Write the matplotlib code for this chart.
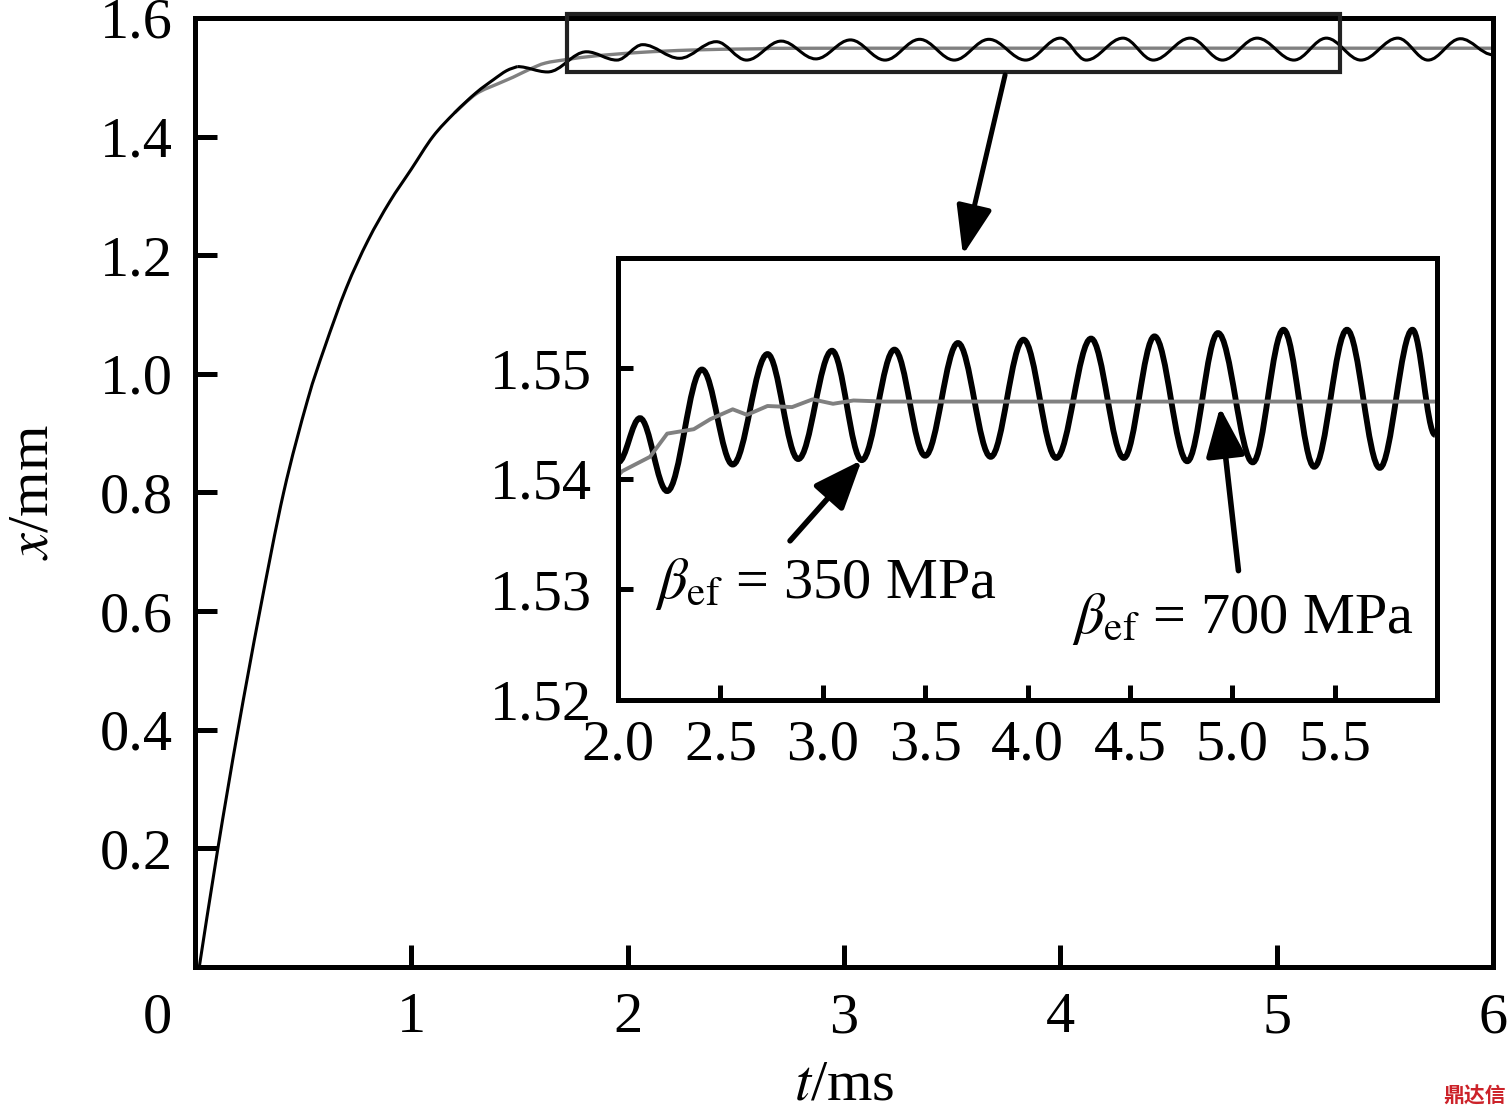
import matplotlib
matplotlib.use('Agg')
import matplotlib.pyplot as plt
from matplotlib.path import Path
from matplotlib.patches import PathPatch, Rectangle

plt.rcParams['font.family'] = ['Liberation Serif', 'DejaVu Serif']
plt.rcParams['mathtext.fontset'] = 'stix'

# main plot: common rise (t in ms, x in mm)
rise_t = [0.02, 0.106, 0.199, 0.30, 0.41, 0.52, 0.60, 0.70, 0.80, 0.90, 1.0,
          1.10, 1.20, 1.30, 1.38, 1.44, 1.49]
rise_x = [0.0, 0.2, 0.4, 0.6, 0.80, 0.955, 1.045, 1.145, 1.225, 1.29, 1.345,
          1.40, 1.44, 1.474, 1.496, 1.511, 1.518]

# main plot, beta_ef = 700 MPa: peaks / troughs after the rise
main_ext_t = [1.49, 1.63, 1.81, 1.95, 2.07, 2.24, 2.41, 2.55, 2.71, 2.87, 3.03, 3.19,
              3.35, 3.51, 3.67, 3.84, 4.00, 4.12, 4.29, 4.43, 4.60, 4.75, 4.91, 5.08,
              5.23, 5.39, 5.56, 5.70, 5.85, 6.0]
main_ext_x = [1.518, 1.509, 1.543, 1.529, 1.555, 1.532, 1.560, 1.529, 1.561, 1.531,
              1.563, 1.529, 1.564, 1.529, 1.564, 1.529, 1.566, 1.529, 1.566, 1.529,
              1.566, 1.529, 1.566, 1.529, 1.566, 1.529, 1.566, 1.529, 1.565, 1.538]

# main plot, beta_ef = 350 MPa tail
gray_t = [1.20, 1.30, 1.40, 1.47, 1.55, 1.62, 1.72, 1.85, 2.06, 2.3, 2.6, 3.0, 6.0]
gray_x = [1.44, 1.472, 1.489, 1.500, 1.514, 1.524, 1.530, 1.536, 1.542, 1.546, 1.548,
          1.549, 1.549]

# inset, beta_ef = 700 MPa extrema
ins_ext_t = [2.0, 2.107, 2.24, 2.41, 2.56, 2.73, 2.88, 3.045, 3.19, 3.35, 3.50, 3.66,
             3.82, 3.98, 4.14, 4.31, 4.47, 4.62, 4.78, 4.93, 5.10, 5.25, 5.40, 5.56,
             5.72, 5.88, 5.99]
ins_ext_x = [1.5415, 1.5455, 1.5389, 1.5499, 1.5413, 1.5513, 1.5418, 1.5516, 1.5417,
             1.5517, 1.5421, 1.5523, 1.5420, 1.5526, 1.5419, 1.5527, 1.5419, 1.5529,
             1.5416, 1.5532, 1.5415, 1.5535, 1.5411, 1.5535, 1.5410, 1.5535, 1.5440]

# inset, beta_ef = 350 MPa
ins_gray_t = [2.0, 2.02, 2.156, 2.24, 2.37, 2.45, 2.56, 2.63, 2.73, 2.85, 2.95, 3.05,
              3.15, 3.3, 6.0]
ins_gray_x = [1.5403, 1.5407, 1.5420, 1.5441, 1.5445, 1.5454, 1.5463, 1.5458, 1.5466,
              1.5465, 1.5472, 1.5468, 1.5471, 1.5470, 1.5470]

main_xticks = [1, 2, 3, 4, 5, 6]
main_yticks = [0.2, 0.4, 0.6, 0.8, 1.0, 1.2, 1.4, 1.6]
ins_xticks = [2.0, 2.5, 3.0, 3.5, 4.0, 4.5, 5.0, 5.5]
ins_yticks = [1.52, 1.53, 1.54, 1.55]


def wave(t_ext, x_ext, a=0.36):
    # smooth curve through extrema, flat tangent at each one
    verts = [(t_ext[0], x_ext[0])]
    codes = [Path.MOVETO]
    for i in range(len(t_ext) - 1):
        dt = t_ext[i + 1] - t_ext[i]
        verts += [(t_ext[i] + a * dt, x_ext[i]),
                  (t_ext[i + 1] - a * dt, x_ext[i + 1]),
                  (t_ext[i + 1], x_ext[i + 1])]
        codes += [Path.CURVE4] * 3
    return Path(verts, codes)


def smooth(t, x):
    # Catmull-Rom through the read points, as bezier segments
    pts = list(zip(t, x))
    verts = [pts[0]]
    codes = [Path.MOVETO]
    n = len(pts)
    for i in range(n - 1):
        p0 = pts[max(i - 1, 0)]
        p1 = pts[i]
        p2 = pts[i + 1]
        p3 = pts[min(i + 2, n - 1)]
        c1 = (p1[0] + (p2[0] - p0[0]) / 6, p1[1] + (p2[1] - p0[1]) / 6)
        c2 = (p2[0] - (p3[0] - p1[0]) / 6, p2[1] - (p3[1] - p1[1]) / 6)
        verts += [c1, c2, p2]
        codes += [Path.CURVE4] * 3
    return Path(verts, codes)


fig = plt.figure(figsize=(15.1, 11.16), dpi=100)

ax = fig.add_axes([0.1291, 0.1335, 0.8596, 0.8504])
ax.add_patch(PathPatch(smooth(gray_t, gray_x), fill=False, ec='#808080', lw=2.4))
ax.add_patch(PathPatch(smooth(rise_t, rise_x), fill=False, ec='black', lw=2.2))
ax.add_patch(PathPatch(wave(main_ext_t, main_ext_x), fill=False, ec='black', lw=2.2))
ax.set_xlim(0, 6)
ax.set_ylim(0, 1.6)
ax.set_xticks(main_xticks)
ax.set_xticklabels([str(v) for v in main_xticks])
ax.set_yticks(main_yticks)
ax.set_yticklabels(['%.1f' % v for v in main_yticks])
ax.tick_params(direction='in', length=16, width=3.6, labelsize=42)
ax.tick_params(axis='x', pad=18)
ax.tick_params(axis='y', pad=16)
for s in ax.spines.values():
    s.set_linewidth(3.6)
ax.annotate('0', xy=(0, 0), xytext=(-27, -18), textcoords='offset points',
            ha='center', va='top', fontsize=42, annotation_clip=False)
ax.set_xlabel(r'$t$/ms', fontsize=42)
ax.xaxis.set_label_coords(0.5, -0.097)
ax.set_ylabel(r'$x$/mm', fontsize=42)
ax.yaxis.set_label_coords(-0.104, 0.5)

# zoom window and arrow to inset
ax.add_patch(Rectangle((1.72, 1.509), 5.294 - 1.72, 1.607 - 1.509, fill=False,
                       ec='#222222', lw=3, clip_on=False, zorder=3))
ax.annotate('', xy=(3.55, 1.2005), xytext=(3.745, 1.504), annotation_clip=False,
            arrowprops=dict(arrowstyle='-|>,head_length=1.5,head_width=0.55',
                            color='black', lw=3.6, mutation_scale=20,
                            shrinkA=0, shrinkB=0))

# inset
ax2 = fig.add_axes([0.4093, 0.3728, 0.5424, 0.3961])
ax2.plot(ins_gray_t, ins_gray_x, color='#808080', lw=2.8)
ax2.add_patch(PathPatch(wave(ins_ext_t, ins_ext_x), fill=False, ec='black', lw=4.2))
ax2.set_xlim(2.0, 6.0)
ax2.set_ylim(1.52, 1.56)
ax2.set_xticks(ins_xticks)
ax2.set_xticklabels(['%.1f' % v for v in ins_xticks])
ax2.set_yticks(ins_yticks)
ax2.set_yticklabels(['%.2f' % v for v in ins_yticks])
ax2.tick_params(direction='in', length=11, width=3.6, labelsize=42)
ax2.tick_params(axis='x', pad=14)
ax2.tick_params(axis='y', pad=19)
for s in ax2.spines.values():
    s.set_linewidth(3.6)

arrow_kw = dict(arrowstyle='-|>,head_length=1.5,head_width=0.6', color='black',
                lw=4, mutation_scale=20, shrinkA=0, shrinkB=0)
ax2.text(2.18, 1.5292, r'$\beta_{\mathrm{ef}}$ = 350 MPa', fontsize=42,
         ha='left', va='baseline')
ax2.annotate('', xy=(3.19, 1.5417), xytext=(2.84, 1.5344), arrowprops=arrow_kw)
ax2.text(4.217, 1.5261, r'$\beta_{\mathrm{ef}}$ = 700 MPa', fontsize=42,
         ha='left', va='baseline')
ax2.annotate('', xy=(4.94, 1.5465), xytext=(5.03, 1.5317), arrowprops=arrow_kw)

fig.text(0.997, 0.018, '鼎达信', color='#cc2229', fontsize=15, fontweight='bold',
         family=['Noto Sans CJK SC', 'DejaVu Sans'], ha='right', va='center')

fig.savefig('out.png', dpi=100)
